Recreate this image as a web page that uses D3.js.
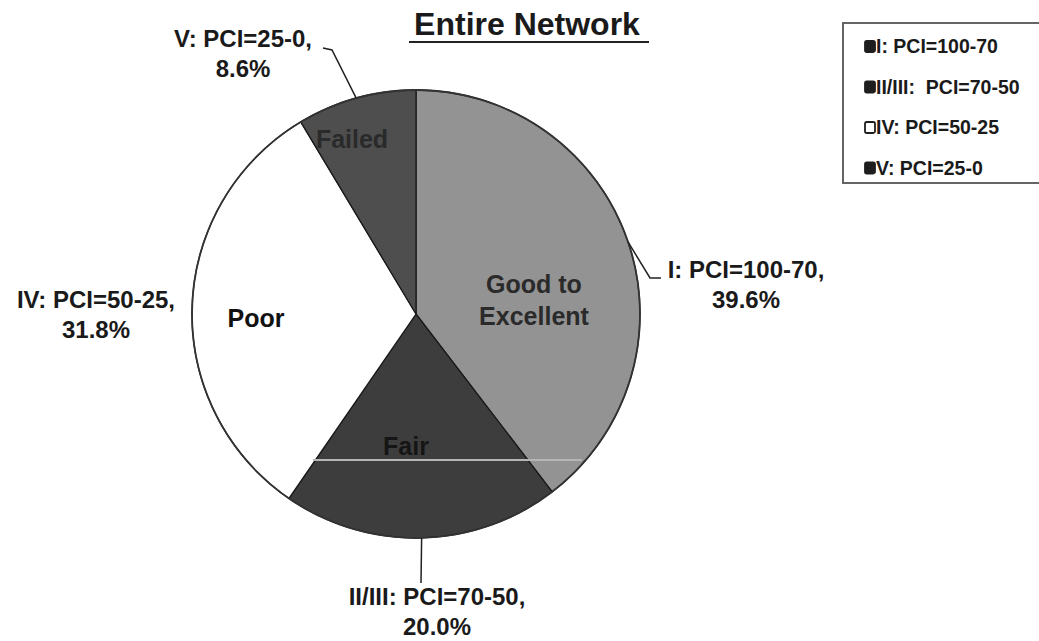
<!DOCTYPE html>
<html>
<head>
<meta charset="utf-8">
<script src="https://cdn.jsdelivr.net/npm/d3@7"></script>
<style>
  html, body { margin: 0; padding: 0; background: #fff; }
  svg { display: block; font-family: "Liberation Sans", Arial, Helvetica, sans-serif; }
  .legtext { white-space: pre; }
</style>
</head>
<body>
<svg id="chart" width="1039" height="641"></svg>
<script>
// ---- data ----
const categories = ["I: PCI=100-70", "II/III: PCI=70-50", "IV: PCI=50-25", "V: PCI=25-0"];
const legendLabels = ["I: PCI=100-70", "II/III:  PCI=70-50", "IV: PCI=50-25", "V: PCI=25-0"];
const values = [39.6, 20.0, 31.8, 8.6];
const conditions = [["Good to", "Excellent"], ["Fair"], ["Poor"], ["Failed"]];
const title = "Entire Network";

// ---- style / layout ----
const sliceColors = ["#939393", "#3d3d3d", "#ffffff", "#4e4e4e"];
const swatchColors = ["#1e1e1e", "#1e1e1e", "#ffffff", "#1e1e1e"];
const innerFill = ["#2a2a2a", "#151515", "#111111", "#2a2a2a"];
const cx = 416, cy = 314, R = 224;
// outer label line-1 centres relative to pie centre
const outerOffsets = [[330, -36], [21, 291], [-320, -6], [-173, -267]];
// inner label positions relative to pie centre (first baseline)
const innerOffsets = [[118, -21], [-10, 141], [-160, 13], [-64, -166]];
// leader elbows relative to pie centre (null = no leader)
const leaderPts = [[[234, -36], [245, -36]], [[5, 269]], null, [[-84, -264], [-93, -266]]];

const svg = d3.select("#chart");

// title
svg.append("text")
  .attr("x", 527).attr("y", 35)
  .attr("text-anchor", "middle")
  .attr("font-size", 32).attr("font-weight", "bold").attr("fill", "#1a1a1a")
  .text(title);
svg.append("line").attr("x1", 409).attr("x2", 649).attr("y1", 42).attr("y2", 42)
  .attr("stroke", "#222").attr("stroke-width", 2.2);

// pie
const pie = d3.pie().sort(null).value(d => d)(values);
const arc = d3.arc().innerRadius(0).outerRadius(R);
const g = svg.append("g").attr("transform", `translate(${cx},${cy})`);

g.selectAll("path.slice").data(pie).join("path")
  .attr("class", "slice")
  .attr("d", arc)
  .attr("fill", (d, i) => sliceColors[i])
  .attr("stroke", "#1a1a1a")
  .attr("stroke-width", 1.3);

g.append("circle").attr("r", R).attr("fill", "none").attr("stroke", "#333").attr("stroke-width", 1.8);

// scan line artifact across "Fair" slice
g.append("line").attr("x1", -103).attr("x2", 166).attr("y1", 146).attr("y2", 146)
  .attr("stroke", "#b5b5b5").attr("stroke-width", 2);

// inner condition labels
pie.forEach((d, i) => {
  const [ox, oy] = innerOffsets[i];
  const txt = g.append("text")
    .attr("x", ox).attr("y", oy)
    .attr("text-anchor", "middle")
    .attr("font-size", 25).attr("font-weight", "bold")
    .attr("fill", innerFill[i]);
  conditions[i].forEach((line, k) => {
    txt.append("tspan").attr("x", ox).attr("dy", k === 0 ? 0 : 32).text(line);
  });
});

// leaders
pie.forEach((d, i) => {
  if (!leaderPts[i]) return;
  const mid = (d.startAngle + d.endAngle) / 2;
  const start = [R * Math.sin(mid), -R * Math.cos(mid)];
  const pts = [start, ...leaderPts[i]];
  g.append("path")
    .attr("d", d3.line()(pts))
    .attr("fill", "none").attr("stroke", "#222").attr("stroke-width", 1.5);
});

// outer labels
pie.forEach((d, i) => {
  const [ox, oy] = outerOffsets[i];
  const txt = g.append("text")
    .attr("x", ox).attr("y", oy)
    .attr("text-anchor", "middle")
    .attr("font-size", 24).attr("font-weight", "bold").attr("fill", "#1a1a1a");
  txt.append("tspan").attr("x", ox).attr("dy", 0).text(categories[i] + ",");
  txt.append("tspan").attr("x", ox).attr("dy", 30).text(d3.format(".1f")(values[i]) + "%");
});

// legend
const lg = svg.append("g").attr("transform", "translate(843,23)");
lg.append("rect").attr("x", 0).attr("y", 0).attr("width", 210).attr("height", 160)
  .attr("fill", "#fff").attr("stroke", "#555").attr("stroke-width", 1.8);
const items = lg.selectAll("g.item").data(legendLabels).join("g")
  .attr("class", "item")
  .attr("transform", (d, i) => `translate(0,${30 + i * 40.5})`);
items.append("rect").attr("x", 22).attr("y", -12).attr("width", 10).attr("height", 11)
  .attr("rx", 1.8)
  .attr("fill", (d, i) => swatchColors[i]).attr("stroke", "#1e1e1e").attr("stroke-width", 1.8);
items.append("text").attr("class", "legtext").attr("x", 33).attr("y", 0)
  .attr("font-size", 19.5).attr("font-weight", "bold").attr("fill", "#1a1a1a")
  .text(d => d);
</script>
</body>
</html>
